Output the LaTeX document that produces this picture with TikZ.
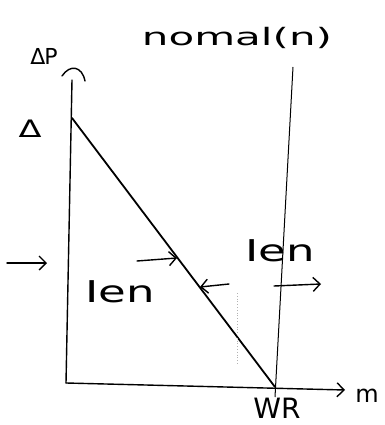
\documentclass[tikz,border=0pt]{standalone}
\usepackage{fontspec}
\setmainfont{DejaVu Sans}
\usetikzlibrary{arrows.meta}
\begin{document}
\begin{tikzpicture}[x=1pt,y=-1pt,
  ink/.style={line width=1.4pt,black,line cap=round},
  barb/.style={ink,-{Straight Barb[length=7pt,width=14pt,line width=1.4pt]}},
  lbl/.style={inner sep=0pt,font=\fontsize{#1}{#1}\selectfont},
  lbl/.default=20]
\useasboundingbox (0,0) rectangle (384,425);
% coordinates
\coordinate (O) at (66,383);
\coordinate (Ytop) at (72,80);
\coordinate (Xend) at (345,390);
\coordinate (A) at (72,118);
\coordinate (W) at (275,387);
\coordinate (Ntop) at (293,67);
\coordinate (Nbot) at (275,397);
\coordinate (D1) at (237,293);
\coordinate (D2) at (237,365);
% axes
\draw[ink] (O) -- (Ytop);
\draw[ink] (62,76) .. controls (70,64) and (82,66) .. (85,81);
\draw[barb] (O) -- (Xend);
% demand line
\draw[ink,line width=1.8pt] (A) -- (W);
% normal line
\draw[line width=1pt] (Ntop) -- (Nbot);
% faint dotted
\draw[gray!60,dotted,line width=0.8pt] (D1) -- (D2);
% labels
\node[lbl=22] (dp) at (44,56) {Δ\kern-1ptP};
\node[lbl=24,xscale=1.4] (delta) at (30,129) {Δ};
\node[lbl=24,xscale=1.75] (normal) at (237,38) {nomal(n)};
\node[lbl=28] (wr) at (277,408) {WR};
\node[lbl=24] (m) at (367,396) {m};
\node[lbl=30,xscale=1.5] (ien1) at (120,292) {Ien};
\node[lbl=30,xscale=1.5] (ien2) at (280,251) {Ien};
% arrows
\coordinate (a1s) at (7,263); \coordinate (a1e) at (47,263);
\draw[barb] (a1s) -- (a1e);
\coordinate (a2s) at (137,261); \coordinate (a2e) at (177,258);
\draw[barb] (a2s) -- (a2e);
\coordinate (a3s) at (229,284); \coordinate (a3e) at (200,287);
\draw[barb] (a3s) -- (a3e);
\coordinate (a4s) at (274,286); \coordinate (a4e) at (321,284);
\draw[barb] (a4s) -- (a4e);
\end{tikzpicture}
\end{document}
